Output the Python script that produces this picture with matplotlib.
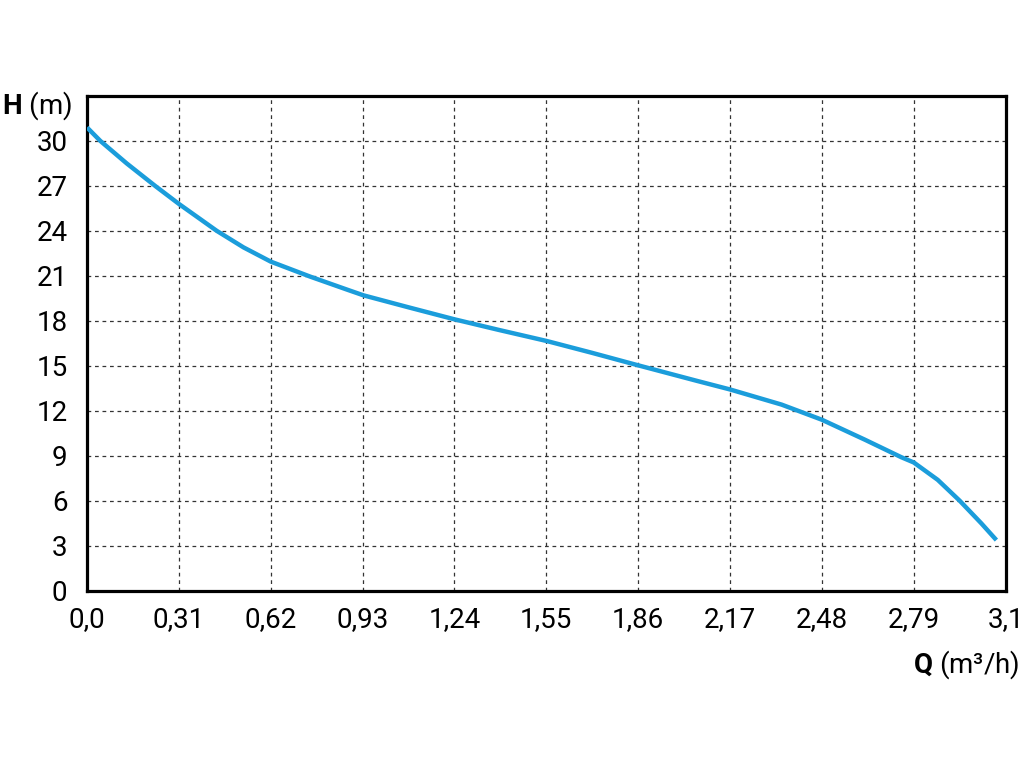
import numpy as np
import matplotlib.pyplot as plt

plt.rcParams['font.family'] = ['Roboto', 'DejaVu Sans']
plt.rcParams['mathtext.fontset'] = 'custom'
plt.rcParams['mathtext.rm'] = 'Roboto'
plt.rcParams['mathtext.bf'] = 'Roboto:bold'

# curva H-Q
caudal = [0.0, 0.045, 0.134, 0.23, 0.31, 0.438, 0.528, 0.62, 0.753, 0.882,
          0.933, 1.085, 1.24, 1.388, 1.552, 1.703, 1.862, 2.057, 2.17, 2.344,
          2.48, 2.625, 2.748, 2.79, 2.871, 2.945, 3.018, 3.069]
altura = [30.9, 30.0, 28.5, 27.0, 25.8, 24.0, 22.9, 21.95, 20.95, 20.05,
          19.7, 18.9, 18.1, 17.4, 16.65, 15.87, 15.02, 14.0, 13.42, 12.41,
          11.4, 10.07, 8.9, 8.55, 7.39, 6.0, 4.49, 3.37]

xticks = [0.0, 0.31, 0.62, 0.93, 1.24, 1.55, 1.86, 2.17, 2.48, 2.79, 3.1]
xlabels = ['0,0', '0,31', '0,62', '0,93', '1,24', '1,55', '1,86', '2,17',
           '2,48', '2,79', '3,1']
yticks = [0, 3, 6, 9, 12, 15, 18, 21, 24, 27, 30]

fig = plt.figure(figsize=(10.24, 7.68), dpi=100)
ax = fig.add_axes([0.085, 0.231, 0.897, 0.644])

ax.plot(caudal, altura, color='#1b9ddb', lw=3.2, solid_capstyle='butt',
        solid_joinstyle='round', zorder=3)

ax.set_xlim(0, 3.1)
ax.set_ylim(0, 33)
ax.set_xticks(xticks)
ax.set_xticklabels(xlabels)
ax.set_yticks(yticks)
ax.tick_params(axis='both', length=0, labelsize=20)
ax.tick_params(axis='x', pad=11)
ax.tick_params(axis='y', pad=14)

ax.grid(True, color='#333333', ls=(0, (3, 3)), lw=0.9)
for s in ax.spines.values():
    s.set_linewidth(2.3)

fig.text(0.002, 0.862, r'$\mathbf{H}$ (m)', fontsize=20, va='center',
         ha='left')
fig.text(0.996, 0.134, r'$\mathbf{Q}$ (m³/h)', fontsize=20, va='center',
         ha='right')

fig.savefig('out.png', dpi=100)
